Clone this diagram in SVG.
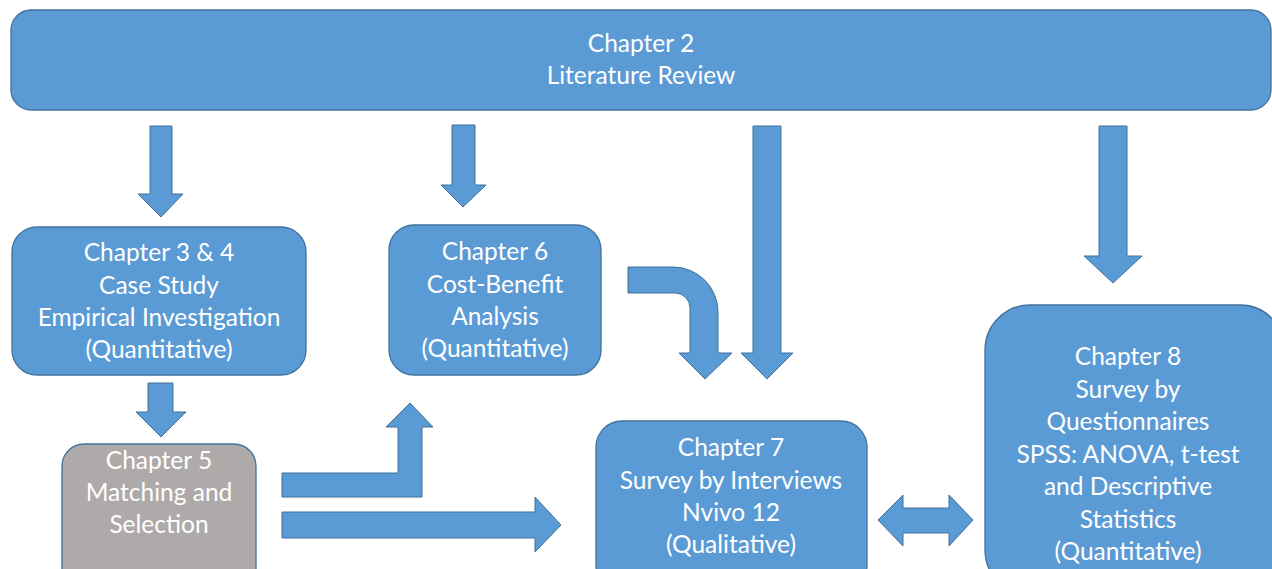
<svg xmlns="http://www.w3.org/2000/svg" width="1272" height="569" viewBox="0 0 1272 569">
<style>
.box{fill:#5B9BD5;stroke:#41719C;stroke-width:1.3}
.grey{fill:#AEAAAA;stroke:#41719C;stroke-width:1.3}
.arr{fill:#5B9BD5;stroke:#41719C;stroke-width:1}
text{font-family:Lato,"Liberation Sans",sans-serif;font-size:24.5px;fill:#FFFFFF;text-anchor:middle}
</style>
<rect width="1272" height="569" fill="#FFFFFF"/>
<g id="ch2">
<rect class="box" x="11" y="10" width="1260" height="100" rx="20"/>
<text x="641" y="52">Chapter 2</text>
<text x="641" y="84">Literature Review</text>
</g>
<g id="ch34">
<rect class="box" x="12" y="227" width="294" height="148" rx="25"/>
<text x="159" y="261">Chapter 3 &amp; 4</text>
<text x="159" y="294">Case Study</text>
<text x="159" y="326">Empirical Investigation</text>
<text x="159" y="358">(Quantitative)</text>
</g>
<g id="ch5">
<rect class="grey" x="62" y="444" width="194" height="150" rx="22"/>
<text x="159" y="469">Chapter 5</text>
<text x="159" y="501">Matching and</text>
<text x="159" y="533">Selection</text>
</g>
<g id="ch6">
<rect class="box" x="389" y="225" width="212" height="150" rx="25"/>
<text x="495" y="260">Chapter 6</text>
<text x="495" y="293">Cost-Benefit</text>
<text x="495" y="325">Analysis</text>
<text x="495" y="357">(Quantitative)</text>
</g>
<g id="ch7">
<rect class="box" x="596" y="421" width="271" height="170" rx="26"/>
<text x="731" y="456">Chapter 7</text>
<text x="731" y="489">Survey by Interviews</text>
<text x="731" y="521">Nvivo 12</text>
<text x="731" y="553">(Qualitative)</text>
</g>
<g id="ch8">
<rect class="box" x="985" y="305" width="300" height="290" rx="45"/>
<text x="1128" y="365">Chapter 8</text>
<text x="1128" y="398">Survey by</text>
<text x="1128" y="430">Questionnaires</text>
<text x="1128" y="463">SPSS: ANOVA, t-test</text>
<text x="1128" y="495">and Descriptive</text>
<text x="1128" y="528">Statistics</text>
<text x="1128" y="560">(Quantitative)</text>
</g>
<g id="connectors">
<path class="arr" d="M150,126 L172,126 L172,194 L183,194 L161,217 L138,194 L150,194 Z"/>
<path class="arr" d="M452,125 L475,125 L475,185 L486,185 L463,207 L441,185 L452,185 Z"/>
<path class="arr" d="M753,126 L781,126 L781,353 L793,353 L767,379 L741,353 L753,353 Z"/>
<path class="arr" d="M1099,126 L1127,126 L1127,256 L1142,256 L1113,283 L1084,256 L1099,256 Z"/>
<path class="arr" d="M148,383 L173,383 L173,412 L186,412 L161,437 L136,412 L148,412 Z"/>
<path class="arr" d="M628,267 L673,267 A45,45 0 0 1 718,312 L718,353 L732,353 L705,379 L679,353 L690,353 L690,308 A15,15 0 0 0 675,293 L628,293 Z"/>
<path class="arr" d="M282,473 L398,473 L398,427 L386,427 L410,403 L433,427 L422,427 L422,497 L282,497 Z"/>
<path class="arr" d="M282,512 L535,512 L535,497 L561,525 L535,552 L535,538 L282,538 Z"/>
<path class="arr" d="M878,520 L903,495 L903,508 L949,508 L949,495 L973,520 L949,546 L949,533 L903,533 L903,546 Z"/>
</g>
</svg>
